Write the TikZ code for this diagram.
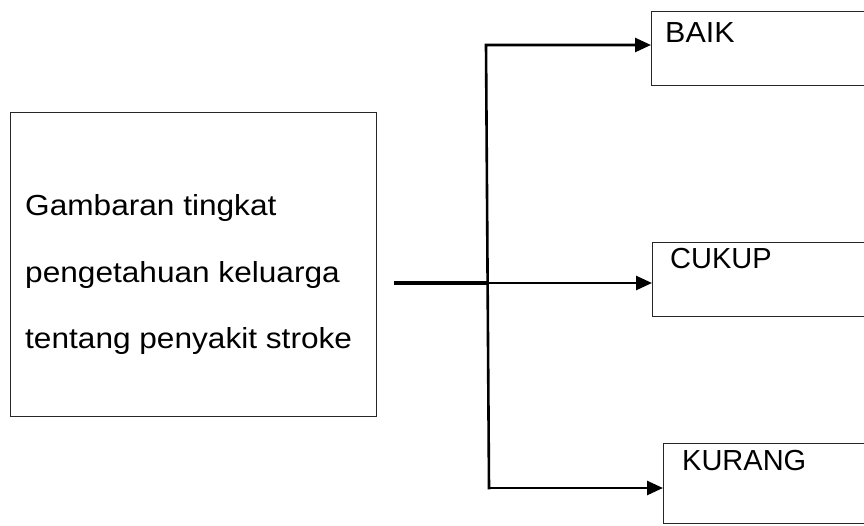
\documentclass[tikz,border=0pt]{standalone}
\usepackage{fontspec}
\setmainfont{Liberation Sans}
\usetikzlibrary{arrows.meta}
\begin{document}
\begin{tikzpicture}[x=1pt,y=-1pt,
  box/.style={draw=black!85, line width=1.3pt, inner sep=0pt, anchor=north west},
  lbl/.style={anchor=base west, inner sep=0pt, font=\fontsize{29}{33}\selectfont},
  conn/.style={line width=2.6pt, black, line cap=rect},
  arr/.style={conn, -{Triangle[length=16pt,width=14pt]}}]
\useasboundingbox (0,0) rectangle (864,525);
\clip (0,0) rectangle (864,525);
% source box
\node[box, minimum width=366pt, minimum height=304pt] (src) at (10,112) {};
\node[lbl] (t1) at (25,215) {\scalebox{1.09}[1]{Gambaran tingkat}};
\node[lbl] (t2) at (25,282) {\scalebox{1.09}[1]{pengetahuan keluarga}};
\node[lbl] (t3) at (25,348) {\scalebox{1.09}[1]{tentang penyakit stroke}};
% result boxes
\node[box, minimum width=260pt, minimum height=74pt] (baik) at (651,11) {};
\node[box, minimum width=260pt, minimum height=74pt] (cukup) at (652,242) {};
\node[box, minimum width=260pt, minimum height=80pt] (kurang) at (663,443) {};
\node[lbl] (lb) at (665,42) {\scalebox{1.05}[1]{BAIK}};
\node[lbl] (lc) at (670,268) {CUKUP};
\node[lbl] (lk) at (682,470) {KURANG};
% connectors
\coordinate (vt) at (486,45);
\coordinate (vb) at (489,488);
\coordinate (in) at (396,283);
\coordinate (vm) at (487.5,283);
\draw[arr] (vb) -- (vt) -- (vt -| baik.west);
\draw[arr] (vb) -- (vb -| kurang.west);
\draw[conn, line width=3.4pt] (in) -- (vm);
\draw[arr] (vm) -- (vm -| cukup.west);
\end{tikzpicture}
\end{document}
